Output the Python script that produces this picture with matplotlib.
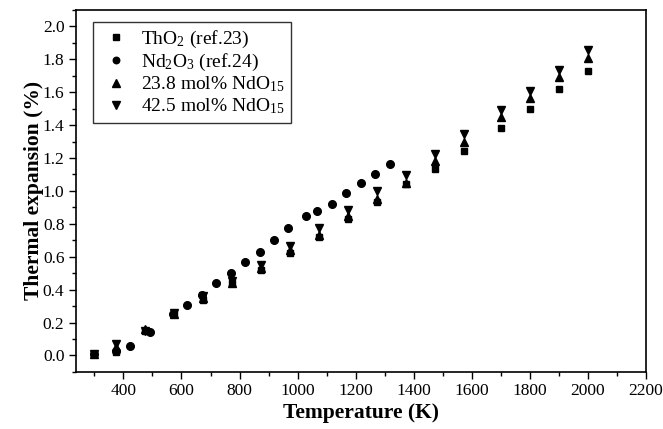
import matplotlib
matplotlib.use("Agg")
import matplotlib.pyplot as plt
from matplotlib.ticker import MultipleLocator, FormatStrFormatter

plt.rcParams['font.family'] = ['Liberation Serif', 'DejaVu Serif']
plt.rcParams['mathtext.fontset'] = 'custom'
plt.rcParams['mathtext.rm'] = 'Liberation Serif'
plt.rcParams['mathtext.it'] = 'Liberation Serif:italic'
plt.rcParams['mathtext.bf'] = 'Liberation Serif:bold'

# ThO2 (ref.23)
tho2_T = [300, 373, 473, 573, 673, 773, 873, 973, 1073, 1173, 1273, 1373, 1473, 1573, 1700, 1800, 1900, 2000]
tho2_v = [0.01, 0.02, 0.15, 0.25, 0.34, 0.44, 0.52, 0.62, 0.72, 0.83, 0.93, 1.04, 1.135, 1.242, 1.384, 1.50, 1.62, 1.73]

# Nd2O3 (ref.24)
nd_T = [300, 373, 422, 491, 570, 620, 672, 720, 770, 818, 870, 920, 968, 1030, 1066, 1117, 1167, 1220, 1268, 1318]
nd_v = [0.01, 0.03, 0.06, 0.14, 0.25, 0.305, 0.37, 0.44, 0.50, 0.565, 0.63, 0.70, 0.775, 0.85, 0.88, 0.92, 0.985, 1.045, 1.105, 1.165]

# 23.8 mol% NdO1.5
m23_T = [300, 373, 473, 573, 673, 773, 873, 973, 1073, 1173, 1273, 1373, 1473, 1573, 1700, 1800, 1900, 2000]
m23_v = [0.01, 0.05, 0.16, 0.25, 0.35, 0.44, 0.53, 0.64, 0.735, 0.845, 0.95, 1.045, 1.18, 1.30, 1.45, 1.565, 1.69, 1.81]

# 42.5 mol% NdO1.5
m42_T = [300, 373, 473, 573, 673, 773, 873, 973, 1073, 1173, 1273, 1373, 1473, 1573, 1700, 1800, 1900, 2000]
m42_v = [0.01, 0.07, 0.15, 0.26, 0.36, 0.45, 0.55, 0.668, 0.775, 0.887, 0.997, 1.097, 1.224, 1.346, 1.49, 1.61, 1.735, 1.857]

fig = plt.figure(figsize=(6.63, 4.29), dpi=100)
ax = fig.add_axes([0.114, 0.133, 0.860, 0.844])

ax.plot(tho2_T, tho2_v, 's', color='black', markersize=5, label='ThO$_2$ (ref.23)')
ax.plot(nd_T, nd_v, 'o', color='black', markersize=5.5, label='Nd$_2$O$_3$ (ref.24)')
ax.plot(m23_T, m23_v, '^', color='black', markersize=6, label='23.8 mol% NdO$_{15}$')
ax.plot(m42_T, m42_v, 'v', color='black', markersize=6, label='42.5 mol% NdO$_{15}$')

ax.set_xlim(235, 2200)
ax.set_ylim(-0.1, 2.1)
ax.set_xticks(range(400, 2201, 200))
ax.xaxis.set_minor_locator(MultipleLocator(100))
ax.yaxis.set_major_locator(MultipleLocator(0.2))
ax.yaxis.set_minor_locator(MultipleLocator(0.1))
ax.yaxis.set_major_formatter(FormatStrFormatter('%.1f'))

ax.tick_params(which='major', direction='out', length=5, width=1, labelsize=12.5, colors='black', pad=3)
ax.tick_params(which='minor', direction='out', length=3, width=1)
for s in ax.spines.values():
    s.set_linewidth(1.2)

ax.set_xlabel('Temperature (K)', fontsize=15.5, fontweight='bold', labelpad=3)
ax.set_ylabel('Thermal expansion (%)', fontsize=15.5, fontweight='bold', labelpad=-1)

leg = ax.legend(loc='upper left', bbox_to_anchor=(0.031, 0.967), borderaxespad=0, fontsize=14,
                frameon=True, fancybox=False, edgecolor='black', borderpad=0.35,
                handletextpad=0.5, labelspacing=0.1, handlelength=1.6, markerscale=0.85)
leg.get_frame().set_linewidth(1.0)

fig.savefig('out.png', dpi=100)
